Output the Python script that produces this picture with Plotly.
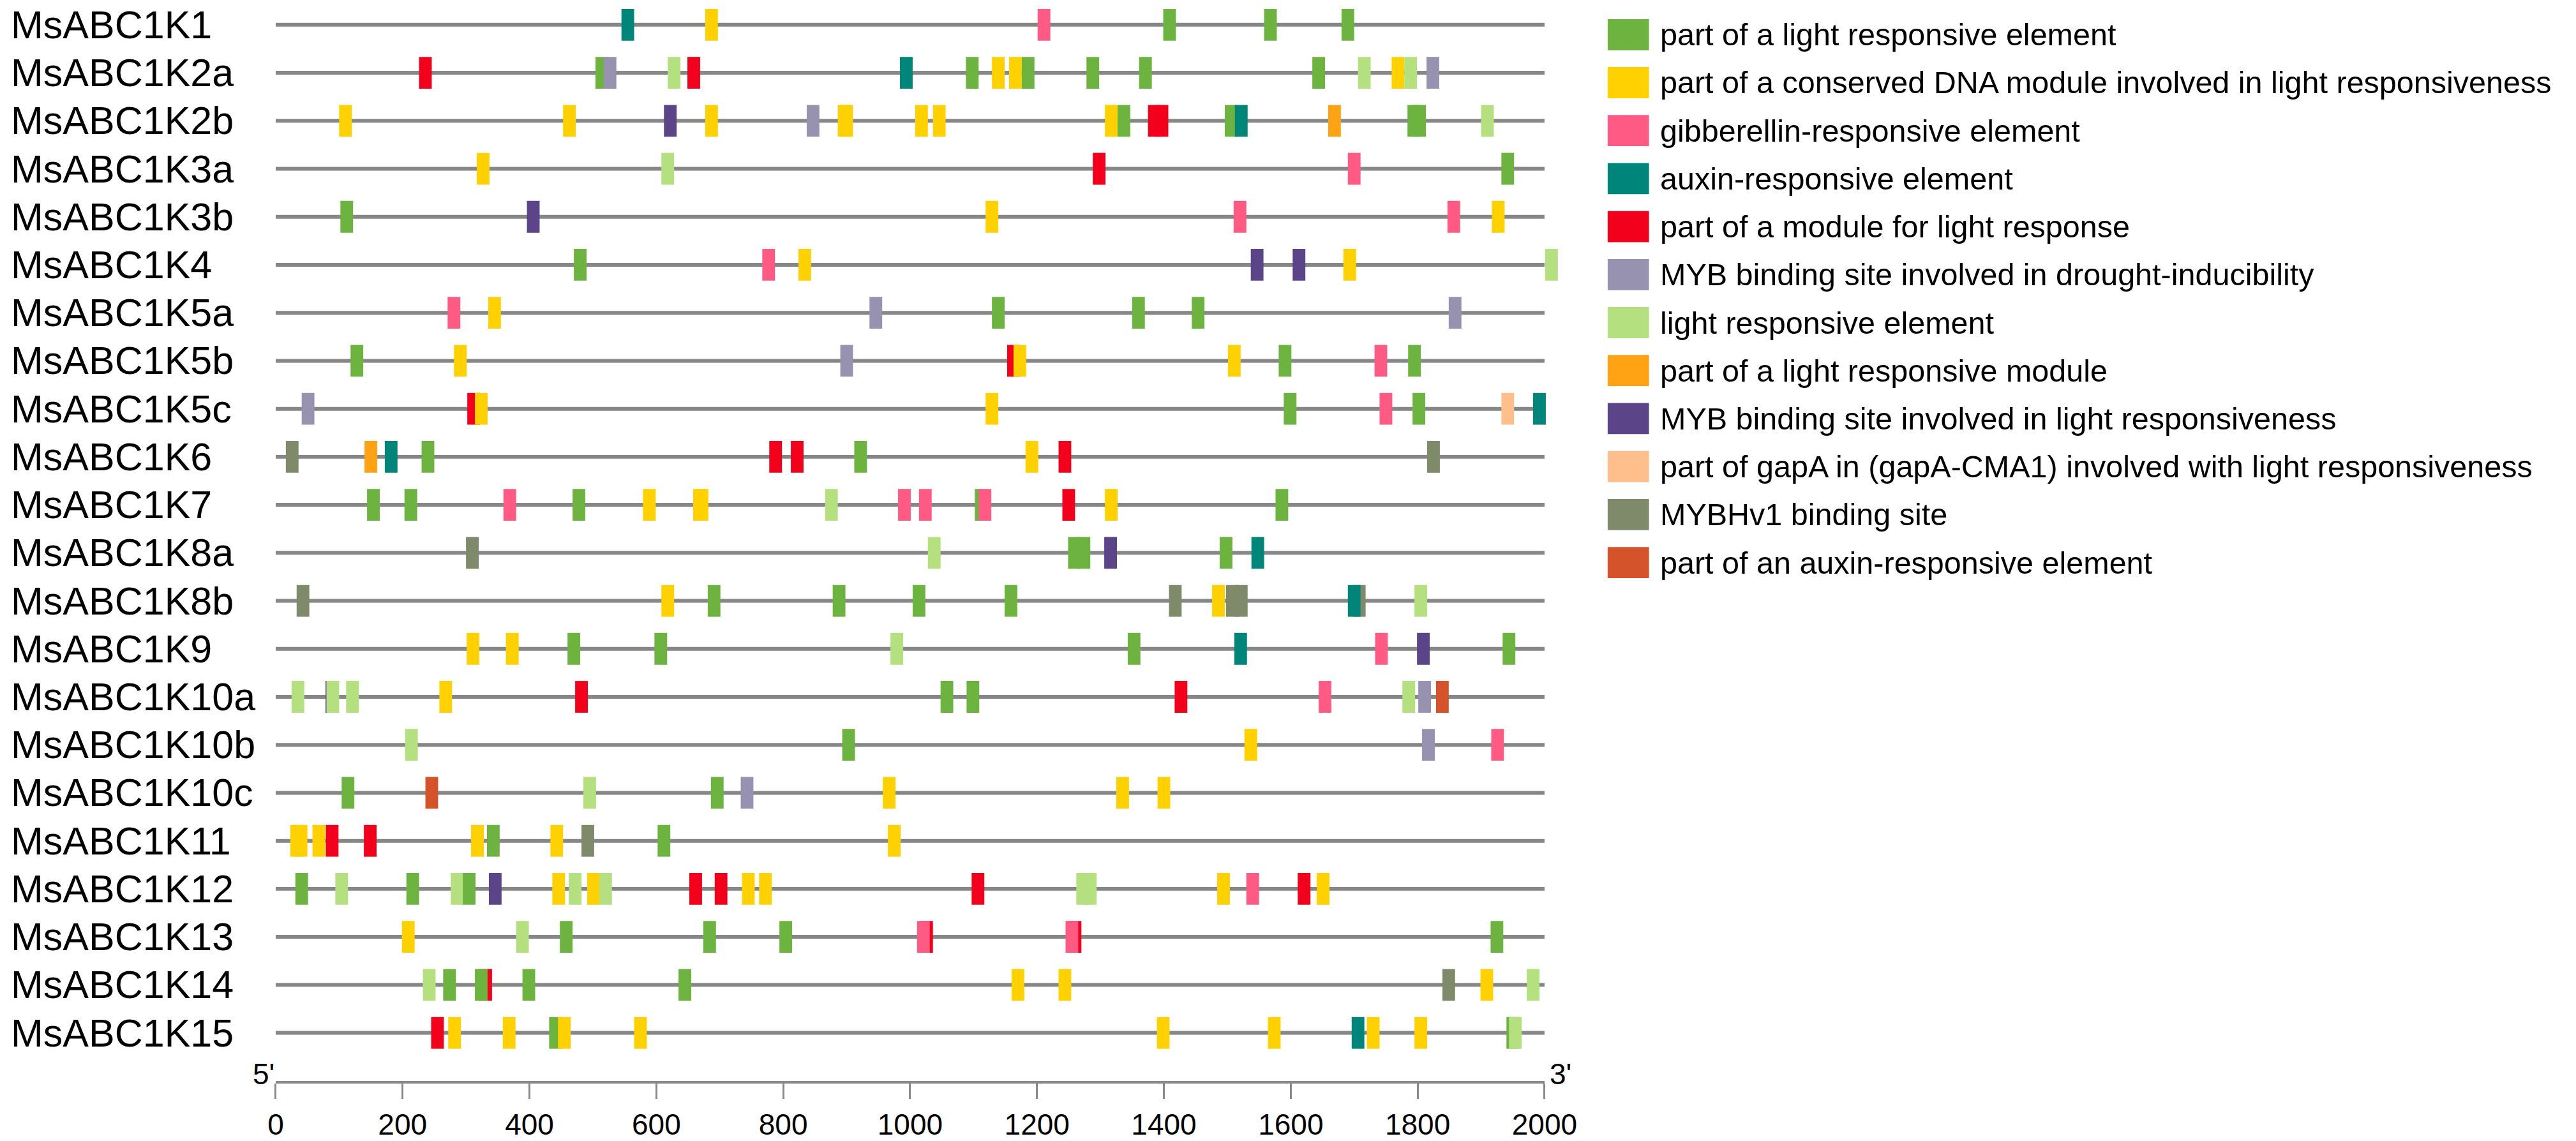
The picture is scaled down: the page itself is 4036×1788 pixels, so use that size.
import plotly.graph_objects as go

W, H = 4036, 1788
FONT = "Liberation Sans, Arial, Helvetica, sans-serif"

# ---------------- legend categories ----------------
codes = ["G", "Y", "P", "T", "R", "M", "L", "O", "V", "A", "H", "X"]
legend_labels = [
    "part of a light responsive element",
    "part of a conserved DNA module involved in light responsiveness",
    "gibberellin-responsive element",
    "auxin-responsive element",
    "part of a module for light response",
    "MYB binding site involved in drought-inducibility",
    "light responsive element",
    "part of a light responsive module",
    "MYB binding site involved in light responsiveness",
    "part of gapA in (gapA-CMA1) involved with light responsiveness",
    "MYBHv1 binding site",
    "part of an auxin-responsive element",
]
colors = ["#6DB33F", "#FFD100", "#FF5A84", "#00857A", "#F2001C", "#9692B0",
          "#B4E080", "#FFA315", "#5C4489", "#FFBF8C", "#7F8A6A", "#D4532B"]

# ---------------- genes ----------------
genes = ["MsABC1K1", "MsABC1K2a", "MsABC1K2b", "MsABC1K3a", "MsABC1K3b", "MsABC1K4",
         "MsABC1K5a", "MsABC1K5b", "MsABC1K5c", "MsABC1K6", "MsABC1K7", "MsABC1K8a",
         "MsABC1K8b", "MsABC1K9", "MsABC1K10a", "MsABC1K10b", "MsABC1K10c", "MsABC1K11",
         "MsABC1K12", "MsABC1K13", "MsABC1K14", "MsABC1K15"]

# element (type, centre position in bp); later entries are drawn on top
K1 = [("T", 555), ("Y", 687), ("P", 1211), ("G", 1409), ("G", 1568), ("G", 1690)]
K2a = [("R", 236), ("G", 514), ("M", 527), ("L", 628), ("R", 659), ("T", 994),
       ("G", 1098), ("Y", 1139), ("Y", 1166), ("G", 1186), ("G", 1288), ("G", 1371),
       ("G", 1644), ("L", 1716), ("Y", 1769), ("L", 1789), ("M", 1824)]
K2b = [("Y", 110), ("Y", 463), ("V", 622), ("Y", 687), ("M", 847), ("Y", 896), ("Y", 900),
       ("Y", 1018), ("Y", 1046), ("Y", 1317), ("G", 1337), ("R", 1385), ("R", 1397),
       ("G", 1506), ("T", 1522), ("O", 1669), ("G", 1794), ("G", 1803), ("L", 1910)]
K3a = [("Y", 327), ("L", 618), ("R", 1298), ("P", 1700), ("G", 1942)]
K3b = [("G", 112), ("V", 406), ("Y", 1129), ("P", 1520), ("P", 1857), ("Y", 1927)]
K4 = [("G", 480), ("P", 777), ("Y", 834), ("V", 1547), ("V", 1613), ("Y", 1693), ("L", 2011)]
K5a = [("P", 281), ("Y", 345), ("M", 946), ("G", 1139), ("G", 1360), ("G", 1454), ("M", 1859)]
K5b = [("G", 128), ("Y", 291), ("M", 900), ("R", 1163), ("Y", 1173), ("Y", 1511),
       ("G", 1591), ("P", 1742), ("G", 1795)]
K5c = [("M", 51), ("R", 312), ("Y", 324), ("Y", 1129), ("G", 1599), ("P", 1750),
       ("G", 1802), ("A", 1942), ("T", 1992)]
K6 = [("H", 26), ("O", 150), ("T", 182), ("G", 240), ("R", 788), ("R", 822), ("G", 922),
      ("Y", 1192), ("R", 1244), ("H", 1825)]
K7 = [("G", 154), ("G", 213), ("P", 369), ("G", 478), ("Y", 589), ("Y", 668), ("Y", 672),
      ("L", 876), ("P", 991), ("P", 1024), ("G", 1112), ("P", 1118), ("R", 1250),
      ("Y", 1317), ("G", 1586)]
K8a = [("H", 310), ("L", 1038), ("G", 1259), ("G", 1274), ("V", 1316), ("G", 1498), ("T", 1548)]
K8b = [("H", 43), ("Y", 618), ("G", 691), ("G", 888), ("G", 1014), ("G", 1159), ("H", 1418),
       ("Y", 1486), ("H", 1508), ("H", 1522), ("H", 1708), ("T", 1700), ("L", 1805)]
K9 = [("Y", 311), ("Y", 373), ("G", 470), ("G", 607), ("L", 979), ("G", 1353), ("T", 1521),
      ("P", 1743), ("V", 1809), ("G", 1944)]
K10a = [("L", 35), ("V", 88.5), ("L", 90), ("L", 121), ("Y", 268), ("R", 482), ("G", 1058),
        ("G", 1099), ("R", 1427), ("P", 1654), ("L", 1786), ("M", 1811), ("X", 1839)]
K10b = [("L", 214), ("G", 903), ("Y", 1537), ("M", 1817), ("P", 1926)]
K10c = [("G", 114), ("X", 246), ("L", 495), ("G", 696), ("M", 743), ("Y", 967),
        ("Y", 1335), ("Y", 1400)]
K11 = [("Y", 33), ("Y", 40), ("Y", 68), ("R", 89), ("R", 149), ("Y", 318), ("G", 343),
       ("Y", 443), ("H", 492), ("G", 612), ("Y", 975)]
K12 = [("G", 41), ("L", 104), ("G", 216), ("L", 286), ("G", 305), ("V", 346), ("Y", 446),
       ("L", 472), ("Y", 501), ("L", 520), ("R", 662), ("R", 702), ("Y", 745), ("Y", 772),
       ("R", 1107), ("L", 1272), ("L", 1284), ("Y", 1494), ("P", 1540), ("R", 1621),
       ("Y", 1651)]
K13 = [("Y", 209), ("L", 389), ("G", 458), ("G", 684), ("G", 804), ("R", 1026), ("P", 1021),
       ("R", 1260), ("P", 1255), ("G", 1925)]
K14 = [("L", 242), ("G", 274), ("R", 331), ("G", 324), ("G", 399), ("G", 645), ("Y", 1170),
       ("Y", 1244), ("H", 1849), ("Y", 1909), ("L", 1982)]
K15 = [("R", 255), ("Y", 282), ("Y", 368), ("G", 441), ("Y", 455), ("Y", 575), ("Y", 1399),
       ("Y", 1574), ("T", 1706), ("Y", 1730), ("Y", 1805), ("G", 1950), ("L", 1954)]

elements = [K1, K2a, K2b, K3a, K3b, K4, K5a, K5b, K5c, K6, K7, K8a, K8b, K9,
            K10a, K10b, K10c, K11, K12, K13, K14, K15]

seq_length = 2000
element_bp = 20
tick_values = list(range(0, 2001, 200))

# ---------------- geometry (pixels) ----------------
px0, ppu = 425.7, 1.01          # pixel of 0 bp, pixels per bp
row0, row_step = 39.0, 75.52     # centre of first row, row spacing
axis_px = 1701.0                 # x-axis line position from top
box_h = 50.0
line_h = 6.0

color_of = dict(zip(codes, colors))
col_idx = {c: i for i, c in enumerate(codes)}

fig = go.Figure()

# backbones
fig.add_trace(go.Bar(
    orientation="h", y=list(range(len(genes))), x=[seq_length] * len(genes),
    base=[0] * len(genes), width=line_h / row_step,
    marker=dict(color="#878787", line=dict(width=0)),
    hoverinfo="skip", xaxis="x", yaxis="y"))

# elements
for i, els in enumerate(elements):
    fig.add_trace(go.Bar(
        orientation="h",
        y=[i] * len(els),
        x=[element_bp] * len(els),
        base=[p - element_bp / 2 for _, p in els],
        width=box_h / row_step,
        marker=dict(color=[color_of[t] for t, _ in els], line=dict(width=0)),
        hovertext=[legend_labels[col_idx[t]] for t, _ in els],
        hoverinfo="text", xaxis="x", yaxis="y"))

# invisible trace for the displayed bp axis
fig.add_trace(go.Scatter(x=[0, seq_length], y=[0, 0], mode="markers",
                         marker=dict(opacity=0), hoverinfo="skip",
                         xaxis="x2", yaxis="y"))

# legend swatches
n_leg = len(codes)
fig.add_trace(go.Bar(
    orientation="h", y=list(range(n_leg)), x=[66] * n_leg, base=[0] * n_leg,
    width=49 / 75.5, marker=dict(color=colors, line=dict(width=0)),
    hoverinfo="skip", xaxis="x3", yaxis="y3"))

# axis ranges
xr = [-40, 2040]
x_dom = [(px0 + ppu * xr[0]) / W, (px0 + ppu * xr[1]) / W]
y_dom = [(H - axis_px) / H, 1.0]
y_top = -row0 / row_step
y_bot = (axis_px - row0) / row_step

leg_left = 2546
leg_row0 = 54.5
leg_step = 75.5

fig.update_layout(
    width=W, height=H,
    margin=dict(l=0, r=0, t=0, b=0),
    paper_bgcolor="white", plot_bgcolor="rgba(0,0,0,0)",
    barmode="overlay", showlegend=False,
    font=dict(family=FONT, color="black"),
    xaxis=dict(domain=x_dom, range=xr, visible=False, fixedrange=True),
    yaxis=dict(domain=y_dom, range=[y_bot, y_top], visible=False, fixedrange=True),
    xaxis2=dict(domain=[px0 / W, (px0 + ppu * seq_length) / W], range=[0, seq_length],
                anchor="y", showgrid=False, zeroline=False,
                showline=True, linecolor="#8a8a8a", linewidth=4,
                ticks="outside", ticklen=24, tickwidth=3, tickcolor="#8a8a8a",
                tickvals=tick_values, ticktext=[str(v) for v in tick_values],
                tickfont=dict(size=46, family=FONT, color="black"),
                fixedrange=True),
    xaxis3=dict(domain=[leg_left / W, 1.0], range=[0, W - leg_left], visible=False,
                anchor="y3", fixedrange=True),
    yaxis3=dict(domain=[0, 1], range=[(H - leg_row0) / leg_step, -leg_row0 / leg_step],
                visible=False, anchor="x3", fixedrange=True),
)

ann = []
for i, g in enumerate(genes):
    ann.append(dict(x=2 / W, xref="paper", y=i, yref="y", text=g, showarrow=False,
                    xanchor="left", yanchor="middle",
                    font=dict(size=61, family=FONT, color="black")))
for i, lab in enumerate(legend_labels):
    ann.append(dict(x=2628 - leg_left, xref="x3", y=i, yref="y3", text=lab,
                    showarrow=False, xanchor="left", yanchor="middle",
                    font=dict(size=48.5, family=FONT, color="black")))
ann.append(dict(x=px0 / W, xref="paper", y=(H - 1690) / H, yref="paper", text="5'",
                showarrow=False, xanchor="right", yanchor="middle",
                font=dict(size=46, family=FONT, color="black")))
ann.append(dict(x=(px0 + ppu * seq_length + 6) / W, xref="paper", y=(H - 1690) / H,
                yref="paper", text="3'", showarrow=False, xanchor="left",
                yanchor="middle", font=dict(size=46, family=FONT, color="black")))
fig.update_layout(annotations=ann)

fig.write_html("out.html",
               config={"displayModeBar": False, "responsive": False},
               post_script="document.body.style.margin='0';"
                           "document.body.style.overflow='hidden';")
